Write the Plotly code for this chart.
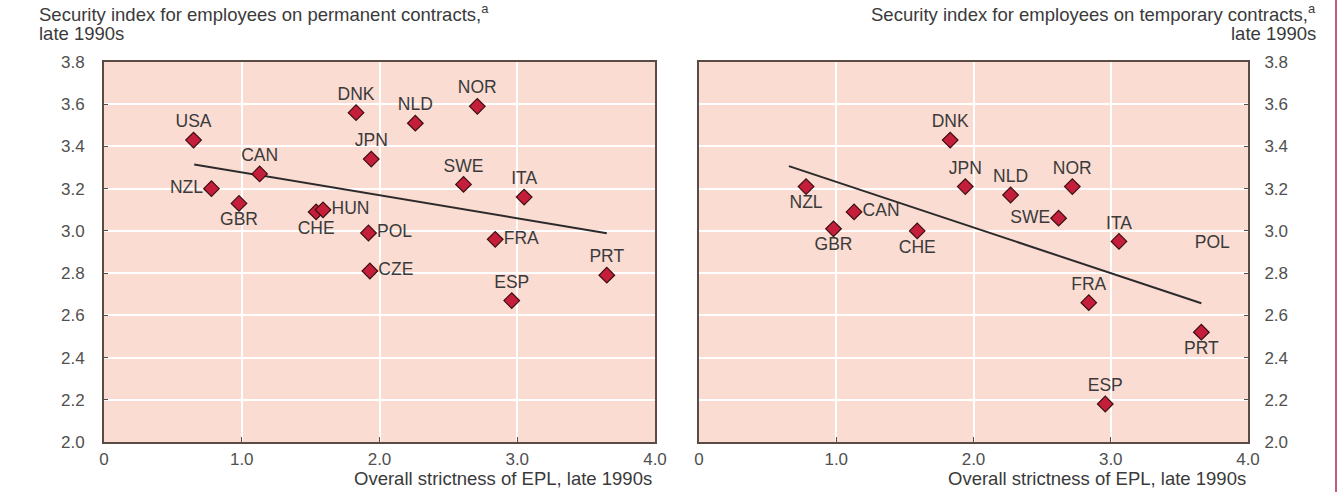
import plotly.graph_objects as go

# ---- Data ----
perm_countries = ["USA", "CAN", "NZL", "GBR", "DNK", "NLD", "JPN", "CHE", "HUN",
                  "POL", "CZE", "NOR", "SWE", "ITA", "FRA", "PRT", "ESP"]
perm_epl = [0.65, 1.13, 0.78, 0.98, 1.83, 2.26, 1.94, 1.54, 1.59,
            1.92, 1.93, 2.71, 2.61, 3.05, 2.84, 3.65, 2.96]
perm_security = [3.43, 3.27, 3.20, 3.13, 3.56, 3.51, 3.34, 3.09, 3.10,
                 2.99, 2.81, 3.59, 3.22, 3.16, 2.96, 2.79, 2.67]
perm_textpos = ["top center", "top center", "middle left", "bottom center", "top center",
                "top center", "top center", "bottom center", "middle right",
                "middle right", "middle right", "top center", "top center", "top center",
                "middle right", "top center", "top center"]

temp_countries = ["DNK", "JPN", "NZL", "CAN", "GBR", "CHE", "NLD", "NOR", "SWE",
                  "ITA", "FRA", "PRT", "ESP"]
temp_epl = [1.83, 1.94, 0.78, 1.13, 0.98, 1.59, 2.27, 2.72, 2.62,
            3.06, 2.84, 3.66, 2.96]
temp_security = [3.43, 3.21, 3.21, 3.09, 3.01, 3.00, 3.17, 3.21, 3.06,
                 2.95, 2.66, 2.52, 2.18]
temp_textpos = ["top center", "top center", "bottom center", "middle right", "bottom center",
                "bottom center", "top center", "top center", "middle left",
                "top center", "top center", "bottom center", "top center"]
temp_textonly_label = ["POL"]
temp_textonly_x = [3.74]
temp_textonly_y = [2.94]

perm_trend_x = [0.655, 3.65]
perm_trend_y = [3.315, 2.989]
temp_trend_x = [0.655, 3.66]
temp_trend_y = [3.307, 2.657]

x_tickvals = [0, 1, 2, 3, 4]
x_ticktext = ["0", "1.0", "2.0", "3.0", "4.0"]
y_tickvals = [2.0, 2.2, 2.4, 2.6, 2.8, 3.0, 3.2, 3.4, 3.6, 3.8]
y_ticktext = ["2.0", "2.2", "2.4", "2.6", "2.8", "3.0", "3.2", "3.4", "3.6", "3.8"]

title_left = ["Security index for employees on permanent contracts,<sup>a</sup>", "late 1990s"]
title_right = ["Security index for employees on temporary contracts,<sup>a</sup>", "late 1990s"]
x_title = "Overall strictness of EPL, late 1990s"

# ---- Style ----
W, H = 1338, 492
FONT = "Liberation Sans, Arial, sans-serif"
BG = "#FBDCD2"
BORDER = "#5a4b45"
MARKER_FILL = "#C41E3A"
MARKER_LINE = "#3a0f12"
TEXT = "#3a3a3a"
TICKTXT = "#505050"

fig = go.Figure()

marker = dict(symbol="diamond", size=12, color=MARKER_FILL, line=dict(color=MARKER_LINE, width=1.2))
labelfont = dict(family=FONT, size=17.5, color=TEXT)

fig.add_trace(go.Scatter(x=perm_trend_x, y=perm_trend_y, mode="lines",
                         line=dict(color="#2b2b2b", width=2), xaxis="x", yaxis="y",
                         showlegend=False, hoverinfo="skip"))
fig.add_trace(go.Scatter(x=perm_epl, y=perm_security, mode="markers+text", text=perm_countries,
                         textposition=perm_textpos, textfont=labelfont, marker=marker,
                         xaxis="x", yaxis="y", showlegend=False, cliponaxis=False))

fig.add_trace(go.Scatter(x=temp_trend_x, y=temp_trend_y, mode="lines",
                         line=dict(color="#2b2b2b", width=2), xaxis="x2", yaxis="y2",
                         showlegend=False, hoverinfo="skip"))
fig.add_trace(go.Scatter(x=temp_epl, y=temp_security, mode="markers+text", text=temp_countries,
                         textposition=temp_textpos, textfont=labelfont, marker=marker,
                         xaxis="x2", yaxis="y2", showlegend=False, cliponaxis=False))
fig.add_trace(go.Scatter(x=temp_textonly_x, y=temp_textonly_y, mode="text", text=temp_textonly_label,
                         textposition="middle center", textfont=labelfont,
                         xaxis="x2", yaxis="y2", showlegend=False, cliponaxis=False))

ydom = [1 - 442 / H, 1 - 62 / H]
xdom1 = [104 / W, 655 / W]
xdom2 = [699 / W, 1248 / W]

common_x = dict(range=[0, 4], tickvals=x_tickvals, ticktext=x_ticktext, showgrid=True,
                gridcolor="white", gridwidth=2, showline=True, linecolor=BORDER, linewidth=2,
                mirror=True, ticks="inside", ticklen=5, tickcolor=BORDER, tickwidth=1,
                tickfont=dict(family=FONT, size=17, color=TICKTXT), zeroline=False,
                automargin=False, fixedrange=True, ticklabelstandoff=1)
common_y = dict(range=[2.0, 3.8], tickvals=y_tickvals, ticktext=y_ticktext, showgrid=True,
                gridcolor="white", gridwidth=2, showline=True, linecolor=BORDER, linewidth=2,
                mirror=True, ticks="inside", ticklen=4, tickcolor=BORDER, tickwidth=1,
                tickfont=dict(family=FONT, size=17, color=TICKTXT), zeroline=False,
                automargin=False, fixedrange=True)

fig.update_layout(
    width=W, height=H, margin=dict(l=0, r=0, t=0, b=0),
    paper_bgcolor="white", plot_bgcolor=BG,
    font=dict(family=FONT, color=TEXT),
    xaxis=dict(domain=xdom1, anchor="y", **common_x),
    yaxis=dict(domain=ydom, anchor="x", side="left", ticklabelstandoff=14, **common_y),
    xaxis2=dict(domain=xdom2, anchor="y2", **common_x),
    yaxis2=dict(domain=ydom, anchor="x2", side="right", ticklabelstandoff=11, **common_y),
)

ann_font = dict(family=FONT, size=18.5, color=TEXT)
annotations = [
    dict(x=37 / W, y=1 - 13 / H, text=title_left[0], xanchor="left", yanchor="middle"),
    dict(x=37 / W, y=1 - 34 / H, text=title_left[1], xanchor="left", yanchor="middle"),
    dict(x=1318 / W, y=1 - 13 / H, text=title_right[0], xanchor="right", yanchor="middle"),
    dict(x=1318 / W, y=1 - 34 / H, text=title_right[1], xanchor="right", yanchor="middle"),
    dict(x=654 / W, y=1 - 478 / H, text=x_title, xanchor="right", yanchor="middle"),
    dict(x=1248 / W, y=1 - 478 / H, text=x_title, xanchor="right", yanchor="middle"),
]
for a in annotations:
    a.update(xref="paper", yref="paper", showarrow=False, font=ann_font)
fig.update_layout(annotations=annotations)

fig.add_shape(type="line", xref="paper", yref="paper", x0=1336 / W, x1=1336 / W, y0=0, y1=1,
              line=dict(color="#C45C7C", width=2))

fig.write_html("out.html",
               config={"displayModeBar": False},
               post_script="document.body.style.margin='0';document.body.style.padding='0';"
                           "document.body.style.overflow='hidden';")
